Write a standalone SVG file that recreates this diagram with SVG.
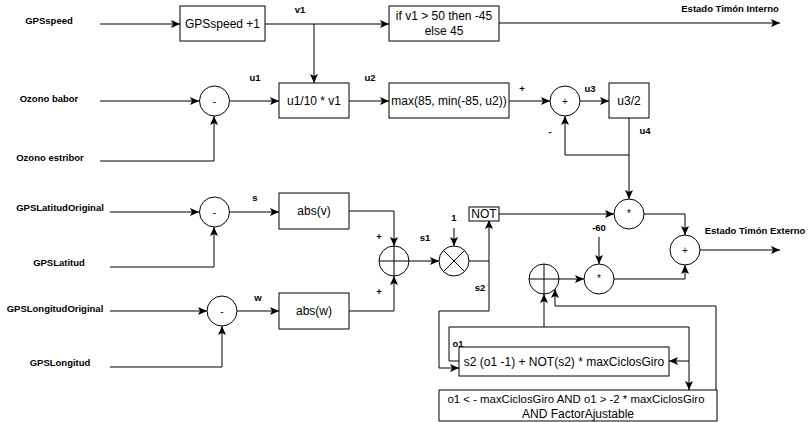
<svg xmlns="http://www.w3.org/2000/svg" width="808" height="422" viewBox="0 0 808 422">
<style>
.bg{fill:#fff}
.box{fill:#fff;stroke:#000;stroke-width:1}
.c{fill:#fff;stroke:#000;stroke-width:1}
.x{stroke:#000;stroke-width:1;fill:none}
.e{fill:none;stroke:#000;stroke-width:1}
.t{font-family:"Liberation Sans",Arial,sans-serif;font-size:12px;fill:#000;text-anchor:middle;dominant-baseline:central}
.l{font-family:"Liberation Sans",Arial,sans-serif;font-size:9.5px;font-weight:bold;fill:#000;text-anchor:middle;dominant-baseline:central}
.s{font-family:"Liberation Sans",Arial,sans-serif;font-size:10px;fill:#000;text-anchor:middle;dominant-baseline:central}
</style>
<defs>
<marker id="a" markerUnits="userSpaceOnUse" markerWidth="10" markerHeight="10" refX="9" refY="5" orient="auto">
<path d="M0,1 L9,5 L0,9 L2,5 Z" fill="#000"/>
</marker>
</defs>
<rect class="bg" x="0" y="0" width="808" height="422"/>

<g id="labels">
<text class="l" x="49" y="20">GPSspeed</text>
<text class="l" x="49" y="98">Ozono babor</text>
<text class="l" x="50" y="157">Ozono estribor</text>
<text class="l" x="60" y="207">GPSLatitudOriginal</text>
<text class="l" x="59" y="262">GPSLatitud</text>
<text class="l" x="55" y="308">GPSLongitudOriginal</text>
<text class="l" x="60" y="362">GPSLongitud</text>
<text class="l" x="300" y="9">v1</text>
<text class="l" x="255" y="77">u1</text>
<text class="l" x="370" y="77">u2</text>
<text class="l" x="522" y="88">+</text>
<text class="l" x="590" y="88">u3</text>
<text class="l" x="550" y="131">-</text>
<text class="l" x="645" y="130">u4</text>
<text class="l" x="255" y="197">s</text>
<text class="l" x="258" y="297">w</text>
<text class="l" x="379" y="236">+</text>
<text class="l" x="379" y="291">+</text>
<text class="l" x="425" y="237">s1</text>
<text class="l" x="454" y="217">1</text>
<text class="l" x="599" y="227">-60</text>
<text class="l" x="480" y="287">s2</text>
<text class="l" x="458" y="343">o1</text>
<text class="l" x="730" y="8">Estado Timón Interno</text>
<text class="l" x="755" y="230">Estado Timón Externo</text>
</g>

<g id="connectors">
<path class="e" d="M100,24 H180" marker-end="url(#a)"/>
<path class="e" d="M265,24 H389" marker-end="url(#a)"/>
<path class="e" d="M314,24 V83" marker-end="url(#a)"/>
<path class="e" d="M499,23 H780" marker-end="url(#a)"/>
<path class="e" d="M100,101 H199" marker-end="url(#a)"/>
<path class="e" d="M100,161 H214 V116" marker-end="url(#a)"/>
<path class="e" d="M230,101 H279" marker-end="url(#a)"/>
<path class="e" d="M349,101 H389" marker-end="url(#a)"/>
<path class="e" d="M509,101 H550" marker-end="url(#a)"/>
<path class="e" d="M580,101 H609" marker-end="url(#a)"/>
<path class="e" d="M629,118 V155 H565 V116" marker-end="url(#a)"/>
<path class="e" d="M629,155 V199" marker-end="url(#a)"/>
<path class="e" d="M110,212 H199" marker-end="url(#a)"/>
<path class="e" d="M110,267 H214 V227" marker-end="url(#a)"/>
<path class="e" d="M230,212 H279" marker-end="url(#a)"/>
<path class="e" d="M349,211 H394 V246" marker-end="url(#a)"/>
<path class="e" d="M110,311 H207" marker-end="url(#a)"/>
<path class="e" d="M110,367 H222 V326" marker-end="url(#a)"/>
<path class="e" d="M237,311 H279" marker-end="url(#a)"/>
<path class="e" d="M349,311 H394 V276" marker-end="url(#a)"/>
<path class="e" d="M409,261 H439" marker-end="url(#a)"/>
<path class="e" d="M454,228 V246" marker-end="url(#a)"/>
<path class="e" d="M469,261 H489 V220" marker-end="url(#a)"/>
<path class="e" d="M489,261 V311 H439 V368 H459" marker-end="url(#a)"/>
<path class="e" d="M499,214 H614" marker-end="url(#a)"/>
<path class="e" d="M644,214 H685 V235" marker-end="url(#a)"/>
<path class="e" d="M599,237 V264" marker-end="url(#a)"/>
<path class="e" d="M559,279 H584" marker-end="url(#a)"/>
<path class="e" d="M614,279 H685 V265" marker-end="url(#a)"/>
<path class="e" d="M700,250 H780" marker-end="url(#a)"/>
<path class="e" d="M459,361 H449 V327 H689 V361 H669" marker-end="url(#a)"/>
<path class="e" d="M689,361 V390" marker-end="url(#a)"/>
<path class="e" d="M544,327 V294" marker-end="url(#a)"/>
<path class="e" d="M716,390 V306 H555 V289" marker-end="url(#a)"/>
</g>

<g id="gpsspeed1"><rect class="box" x="180" y="6" width="85" height="35"/><text class="t" x="222.5" y="23.5">GPSspeed +1</text></g>
<g id="ifbox"><rect class="box" x="389" y="6" width="110" height="35"/><text class="t" x="444" y="16">if v1 &gt; 50 then -45</text><text class="t" x="444" y="31">else 45</text></g>
<g id="u1box"><rect class="box" x="279" y="83" width="70" height="35"/><text class="t" x="314" y="100.5">u1/10 * v1</text></g>
<g id="maxbox"><rect class="box" x="389" y="83" width="120" height="35"/><text class="t" x="449" y="100.5">max(85, min(-85, u2))</text></g>
<g id="u3box"><rect class="box" x="609" y="83" width="40" height="35"/><text class="t" x="629" y="100.5">u3/2</text></g>
<g id="absv"><rect class="box" x="279" y="193" width="70" height="36"/><text class="t" x="314" y="211">abs(v)</text></g>
<g id="absw"><rect class="box" x="279" y="293" width="70" height="36"/><text class="t" x="314" y="311">abs(w)</text></g>
<g id="notbox"><rect class="box" x="469" y="207" width="30" height="14"/><text class="t" x="484" y="214">NOT</text></g>
<g id="o1box"><rect class="box" x="459" y="347" width="210" height="29"/><text class="t" x="564" y="361.5">s2 (o1 -1) + NOT(s2) * maxCiclosGiro</text></g>
<g id="condbox"><rect class="box" x="439" y="390" width="278" height="31"/><text class="t" x="576" y="399" style="font-size:11.4px">o1 &lt; - maxCiclosGiro AND o1 &gt; -2 * maxCiclosGiro</text><text class="t" x="578" y="414">AND FactorAjustable</text></g>

<g id="minus1"><circle class="c" cx="214.5" cy="101" r="15"/><text class="s" x="214.5" y="101">-</text></g>
<g id="sum1"><circle class="c" cx="565" cy="101" r="15"/><text class="s" x="565" y="101">+</text></g>
<g id="minus2"><circle class="c" cx="214.5" cy="212" r="15"/><text class="s" x="214.5" y="212">-</text></g>
<g id="minus3"><circle class="c" cx="222" cy="311" r="15"/><text class="s" x="222" y="311">-</text></g>
<g id="osum"><circle class="c" cx="394" cy="261" r="15"/><path class="x" d="M379,261 H409 M394,246 V276"/></g>
<g id="omul"><circle class="c" cx="454" cy="261" r="15"/><path class="x" d="M443.4,250.4 L464.6,271.6 M464.6,250.4 L443.4,271.6"/></g>
<g id="mul1"><circle class="c" cx="629" cy="214" r="15"/><text class="s" x="629" y="213">*</text></g>
<g id="mul2"><circle class="c" cx="599" cy="279" r="15"/><text class="s" x="599" y="278">*</text></g>
<g id="sum2"><circle class="c" cx="685" cy="250" r="15"/><text class="s" x="685" y="250">+</text></g>
<g id="osum2"><circle class="c" cx="544" cy="279" r="15"/><path class="x" d="M529,279 H559 M544,264 V294"/></g>
</svg>
